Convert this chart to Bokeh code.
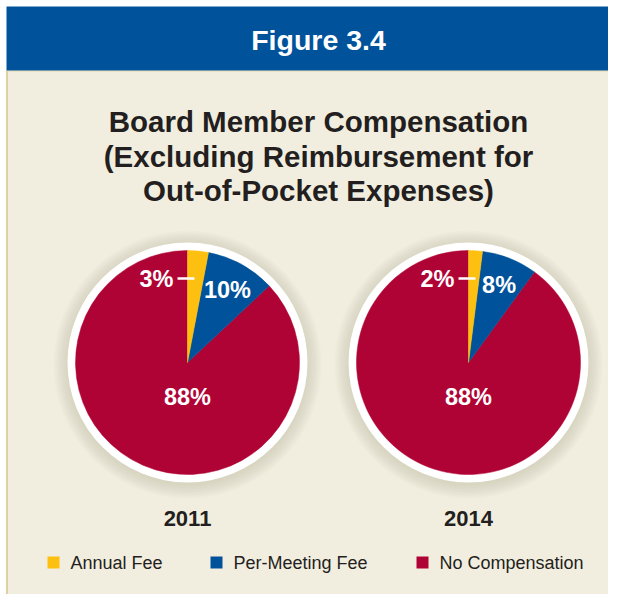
import numpy as np
from bokeh.plotting import figure
from bokeh.models import Range1d
from bokeh.core.properties import value
from bokeh.embed import file_html
from bokeh.resources import INLINE

# ---------------- data ----------------
header = "Figure 3.4"
title_lines = ["Board Member Compensation",
               "(Excluding Reimbursement for",
               "Out-of-Pocket Expenses)"]
categories = ["Annual Fee", "Per-Meeting Fee", "No Compensation"]
colors = ["#FDC010", "#00529B", "#B00335"]
years = ["2011", "2014"]
values_2011 = [3, 10, 88]
values_2014 = [2, 8, 88]
series = [values_2011, values_2014]

# ---------------- layout (image px, y measured from top) ----------------
W, H = 608, 594
FONT = "Liberation Sans"
DARK = "#231F20"
BEIGE = "#F2EEDF"


def Y(yi):
    return 610 - yi


p = figure(width=W, height=H, x_range=Range1d(0, 608), y_range=Range1d(16, 610),
           x_axis_type=None, y_axis_type=None, toolbar_location=None,
           output_backend="svg", min_border=0, outline_line_color=None,
           background_fill_color="white", border_fill_color="white")
p.grid.visible = False

# background panel and header band
p.quad(left=[6], right=[624], top=[Y(70)], bottom=[Y(612)], fill_color=BEIGE, line_color=None)
p.segment(x0=[6.5], y0=[Y(70)], x1=[6.5], y1=[Y(612)], line_color="#D9C891", line_width=1.6)
p.segment(x0=[6], y0=[Y(70.5)], x1=[624], y1=[Y(70.5)], line_color="#E3D6A8", line_width=1)
p.quad(left=[6], right=[624], top=[Y(6)], bottom=[Y(70)], fill_color="#00529B", line_color=None)

p.text(x=[318], y=[Y(39)], text=[header], text_color="white", text_font=value(FONT),
       text_font_style="bold", text_font_size="28.5px", text_align="center",
       text_baseline="middle")

title_y = [121, 156, 190]
p.text(x=[318] * 3, y=[Y(v) for v in title_y], text=title_lines, text_color=DARK,
       text_font=value(FONT), text_font_style="bold", text_font_size="29.5px",
       text_align="center", text_baseline="middle")

# ---------------- pies ----------------
centers_x = [187, 468]
cy = 362
R_OUT, R_PIE = 120, 112

for vals, cx, yr in zip(series, centers_x, years):
    # soft shadow halo
    for r in np.arange(134, 119, -1.5):
        p.circle(x=[cx], y=[Y(cy + 2)], radius=r, fill_color="#9C9170",
                 fill_alpha=0.03, line_color=None)
    p.circle(x=[cx], y=[Y(cy)], radius=R_OUT, fill_color="white", line_color=None)

    fr = np.array(vals, dtype=float) / 100.0
    ends = np.cumsum(fr)
    starts = ends - fr
    ends[-1] = 1.0
    sa = np.pi / 2 - 2 * np.pi * starts
    ea = np.pi / 2 - 2 * np.pi * ends
    order = [2, 1, 0]
    p.wedge(x=[cx] * 3, y=[Y(cy)] * 3, radius=R_PIE,
            start_angle=[sa[i] for i in order], end_angle=[ea[i] for i in order],
            direction="clock", fill_color=[colors[i] for i in order],
            line_color=[colors[i] for i in order], line_width=0.5)

    labels = [f"{v}%" for v in vals]
    # small slice label with leader line
    ly = cy - 84
    p.segment(x0=[cx - 10], y0=[Y(ly)], x1=[cx + 7], y1=[Y(ly)], line_color="white",
              line_width=2.5)
    p.text(x=[cx - 14], y=[Y(ly)], text=[labels[0]], text_color="white",
           text_font=value(FONT), text_font_style="bold", text_font_size="23.5px",
           text_align="right", text_baseline="middle")
    # second slice label at mid angle
    mid = (sa[1] + ea[1]) / 2
    r_lab = 83
    p.text(x=[cx + r_lab * np.cos(mid)], y=[Y(cy) + r_lab * np.sin(mid)], text=[labels[1]],
           text_color="white", text_font=value(FONT), text_font_style="bold",
           text_font_size="23.5px", text_align="center", text_baseline="middle")
    # large slice label
    p.text(x=[cx], y=[Y(cy + 34)], text=[labels[2]], text_color="white",
           text_font=value(FONT), text_font_style="bold", text_font_size="23.5px",
           text_align="center", text_baseline="middle")
    # year label
    p.text(x=[cx], y=[Y(518)], text=[yr], text_color=DARK, text_font=value(FONT),
           text_font_style="bold", text_font_size="22px", text_align="center",
           text_baseline="middle")

# ---------------- legend ----------------
leg_x = [53, 216, 422]
leg_y = 562
p.rect(x=leg_x, y=[Y(leg_y)] * 3, width=12, height=12, width_units="screen",
       height_units="screen", fill_color=colors, line_color=None)
p.text(x=[v + 17 for v in leg_x], y=[Y(leg_y)] * 3, text=categories, text_color=DARK,
       text_font=value(FONT), text_font_size="18px", text_align="left",
       text_baseline="middle")

open("out.html", "w").write(file_html(p, INLINE))
